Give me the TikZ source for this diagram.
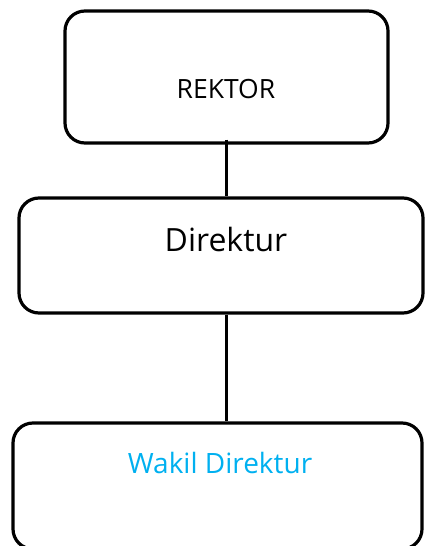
\documentclass[tikz,border=0pt]{standalone}
\usepackage{fontspec}
\setmainfont{Open Sans}
\definecolor{wakilblue}{HTML}{00B0F0}
\begin{document}
\begin{tikzpicture}[x=1bp,y=-1bp,
  orgbox/.style={draw=black,line width=3.2bp,rounded corners=20bp,inner sep=0pt},
  link/.style={draw=black,line width=2.7bp},
  lbl/.style={inner sep=0pt,anchor=base}]
\clip (0,0) rectangle (425,546);
\useasboundingbox (0,0) rectangle (425,546);
\node[orgbox,minimum width=323bp,minimum height=132bp] (rektor) at (226.5,77) {};
\node[orgbox,minimum width=404bp,minimum height=115bp] (direktur) at (221,255.5) {};
\node[orgbox,minimum width=409bp,minimum height=126bp] (wakil) at (217.5,486) {};
\node[lbl,font=\fontsize{26.5bp}{30bp}\selectfont] (trektor) at (226,99) {REKTOR};
\node[lbl,font=\fontsize{32bp}{36bp}\selectfont] (tdirektur) at (226,251) {Direktur};
\node[lbl,font=\fontsize{28bp}{32bp}\selectfont,text=wakilblue] (twakil) at (220,473) {Wakil Direktur};
\draw[link] ([yshift=5bp]rektor.south) -- (rektor.south |- direktur.north);
\draw[link] (rektor.south |- direktur.south) -- (rektor.south |- wakil.north);
\end{tikzpicture}
\end{document}
